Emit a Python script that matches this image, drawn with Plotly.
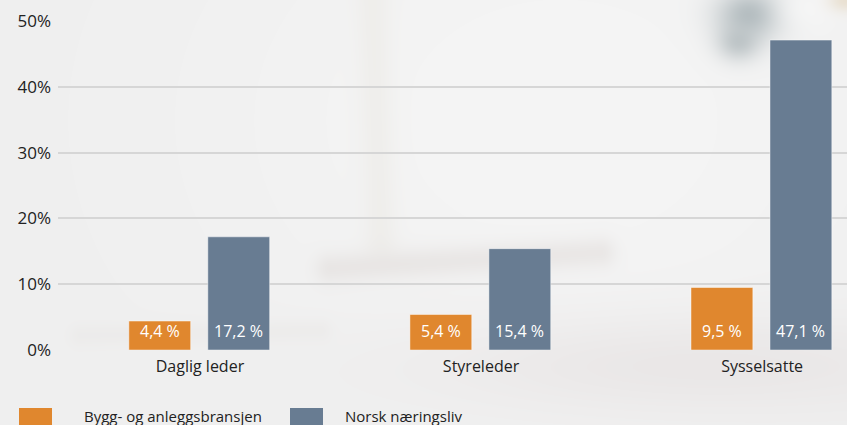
import base64
import struct
import zlib

import numpy as np
import plotly.graph_objects as go

# ---- data -------------------------------------------------------------
categories = ["Daglig leder", "Styreleder", "Sysselsatte"]
series_names = ["Bygg- og anleggsbransjen", "Norsk næringsliv"]
bygg_values = [4.4, 5.4, 9.5]
norsk_values = [17.2, 15.4, 47.1]
y_ticks = [0, 10, 20, 30, 40, 50]

ORANGE = "#E0872E"
BLUE = "#687C92"
W, H = 847, 425
ML, MR, MT, MB = 58, 0, 21, 75
PW, PH = W - ML - MR, H - MT - MB
BAR_W = 0.22
OFFSETS = [-0.253, 0.028]


# ---- soft photographic backdrop, rendered as a small PNG ---------------
def make_backdrop():
    yy, xx = np.mgrid[0:H, 0:W].astype(float)
    img = np.zeros((H, W, 3))
    base = 239 + 6 * np.exp(-((xx - 560) ** 2) / (2 * 260 ** 2) - ((yy - 120) ** 2) / (2 * 200 ** 2))
    for c in range(3):
        img[..., c] = base

    def blend(weight, color):
        for c in range(3):
            img[..., c] = img[..., c] * (1 - weight) + color[c] * weight

    def blob(cx, cy, sx, sy, color, alpha):
        w = alpha * np.exp(-((xx - cx) ** 2) / (2 * sx ** 2) - ((yy - cy) ** 2) / (2 * sy ** 2))
        blend(w, color)

    def smear(x0, y0, x1, y1, s, color, alpha):
        dx, dy = x1 - x0, y1 - y0
        t = np.clip(((xx - x0) * dx + (yy - y0) * dy) / (dx * dx + dy * dy), 0, 1)
        d2 = (xx - (x0 + t * dx)) ** 2 + (yy - (y0 + t * dy)) ** 2
        blend(alpha * np.exp(-d2 / (2 * s ** 2)), color)

    # warm shadow lower right
    blob(700, 365, 200, 35, (228, 223, 223), 0.55)
    # vertical pale streak
    smear(372, 0, 380, 240, 12, (232, 229, 222), 0.35)
    # horizontal brownish smear
    smear(330, 268, 600, 252, 11, (216, 209, 206), 0.35)
    smear(80, 335, 320, 330, 8, (230, 227, 225), 0.3)
    # blue-grey object at the top right
    blob(750, 14, 24, 18, (165, 176, 180), 0.8)
    blob(738, 42, 15, 13, (175, 184, 187), 0.7)
    blob(805, 8, 22, 18, (248, 248, 248), 0.7)
    blob(845, 0, 12, 8, (228, 214, 190), 0.6)
    return np.clip(img, 0, 255).astype(np.uint8)


def to_png_uri(arr):
    h, w, _ = arr.shape
    raw = b"".join(b"\x00" + arr[r].tobytes() for r in range(h))

    def chunk(tag, data):
        return (struct.pack(">I", len(data)) + tag + data
                + struct.pack(">I", zlib.crc32(tag + data) & 0xFFFFFFFF))

    png = (b"\x89PNG\r\n\x1a\n"
           + chunk(b"IHDR", struct.pack(">IIBBBBB", w, h, 8, 2, 0, 0, 0))
           + chunk(b"IDAT", zlib.compress(raw, 9))
           + chunk(b"IEND", b""))
    return "data:image/png;base64," + base64.b64encode(png).decode()


def fmt(v):
    return f"{v:.1f}".replace(".", ",") + " %"


x_pos = list(range(len(categories)))
FONT = "Open Sans, Noto Sans, sans-serif"

fig = go.Figure()
for vals, color, offset in zip([bygg_values, norsk_values], [ORANGE, BLUE], OFFSETS):
    fig.add_trace(go.Bar(
        x=x_pos, y=vals, width=BAR_W, offset=offset,
        marker=dict(color=color, line=dict(color="rgba(255,255,255,0.45)", width=1)),
        showlegend=False, hoverinfo="skip",
    ))
    # value labels sitting near the base of each bar
    for xp, v in zip(x_pos, vals):
        fig.add_annotation(x=xp + offset + BAR_W / 2, y=0, text=fmt(v),
                           xanchor="center", yanchor="bottom", yshift=6, showarrow=False,
                           font=dict(color="white", size=16, family=FONT))

# legend drawn as swatches + labels below the chart
legend_items = [(series_names[0], ORANGE, 19, 82), (series_names[1], BLUE, 290, 343)]
for name, color, sx, tx in legend_items:
    fig.add_shape(type="rect", xref="paper", yref="paper",
                  x0=(sx - ML) / PW, x1=(sx + 33 - ML) / PW,
                  y0=-(426 - 350) / PH, y1=-(408 - 350) / PH,
                  fillcolor=color, line_width=0, layer="above")
    fig.add_annotation(text=name, xref="paper", yref="paper",
                       x=(tx - ML) / PW, y=-(416 - 350) / PH, xanchor="left", yanchor="middle",
                       showarrow=False, font=dict(size=15, color="#222", family=FONT))

fig.add_layout_image(dict(
    source=to_png_uri(make_backdrop()), xref="paper", yref="paper",
    x=-ML / PW, y=1 + MT / PH, sizex=W / PW, sizey=H / PH,
    xanchor="left", yanchor="top", sizing="stretch", layer="below",
))

fig.update_layout(
    width=W, height=H, margin=dict(l=ML, r=MR, t=MT, b=MB),
    paper_bgcolor="#f0f0f0", plot_bgcolor="rgba(0,0,0,0)",
    font=dict(family=FONT, size=15, color="#222"),
    xaxis=dict(range=[-0.505, 2.302], tickmode="array", tickvals=x_pos, ticktext=categories,
               showgrid=False, zeroline=False, showline=False, ticks="", fixedrange=True,
               tickfont=dict(size=16), ticklabelstandoff=5),
    yaxis=dict(range=[0, 50], tickmode="array", tickvals=y_ticks,
               ticktext=[f"{t}%" for t in y_ticks], showgrid=True,
               gridcolor="#d6d6d6", gridwidth=1.5, zeroline=False, showline=False,
               ticks="", ticklabelstandoff=6, tickfont=dict(size=17)),
    barmode="overlay",
)

fig.write_html("out.html")
